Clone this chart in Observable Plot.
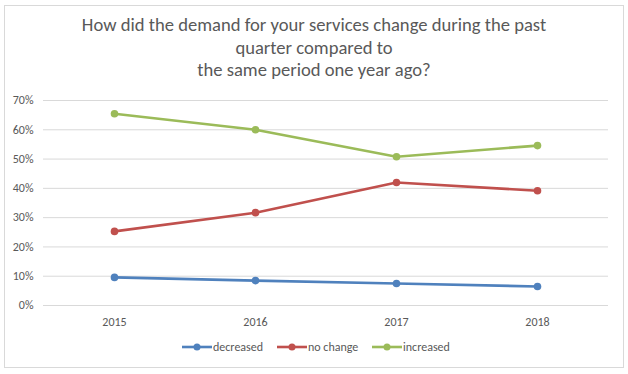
<!DOCTYPE html>
<html><head><meta charset="utf-8">
<script src="https://cdn.jsdelivr.net/npm/d3@7"></script>
<script src="https://cdn.jsdelivr.net/npm/@observablehq/plot@0.6"></script>
<style>
body{margin:0;background:#fff;font-family:Carlito,"Liberation Sans Narrow","Open Sans",sans-serif;}
#frame{position:absolute;left:4px;top:5px;width:618px;height:361px;border:1px solid #d9d9d9;}
#title{position:absolute;left:0;top:14px;width:628px;text-align:center;font-size:18.6px;line-height:22.5px;color:#595959;}
#chart{position:absolute;left:0;top:85px;}
#legend{position:absolute;left:0;top:338px;width:628px;height:18px;font-size:12px;color:#595959;}
.item{position:absolute;top:0;display:flex;align-items:center;height:18px;}
.item svg{margin-right:1px;}
</style></head>
<body>
<div id="frame"></div>
<div id="title">How did the demand for your services change during the past<br>quarter compared to<br>the same period one year ago?</div>
<div id="chart"></div>
<div id="legend"></div>
<script>
const years = ["2015","2016","2017","2018"];
const decreased = [0.096, 0.085, 0.075, 0.065];
const noChange = [0.253, 0.317, 0.42, 0.392];
const increased = [0.655, 0.60, 0.508, 0.546];
const seriesNames = ["decreased","no change","increased"];
const seriesColors = ["#4F81BD","#C0504D","#9BBB59"];
const yTicks = [0,0.1,0.2,0.3,0.4,0.5,0.6,0.7];

const seriesValues = [decreased, noChange, increased];
const data = [];
seriesNames.forEach((s,i)=>years.forEach((y,j)=>data.push({series:s, year:y, value:seriesValues[i][j]})));

const plot = Plot.plot({
  width: 628, height: 250,
  marginTop: 15, marginBottom: 30, marginLeft: 43, marginRight: 20,
  style:{fontFamily:'Carlito,"Liberation Sans Narrow","Open Sans",sans-serif', fontSize:"12px", color:"#595959", background:"transparent"},
  x:{type:"point", domain:years, padding:0.5, label:null, tickSize:0, tickPadding:12},
  y:{domain:[0,0.7], ticks:yTicks, tickFormat:d=>Math.round(d*100)+"%", label:null, tickSize:0, tickPadding:10},
  color:{domain:seriesNames, range:seriesColors},
  marks:[
    Plot.ruleY(yTicks,{stroke:"#d9d9d9", strokeWidth:1}),
    Plot.line(data,{x:"year", y:"value", z:"series", stroke:"series", strokeWidth:2.6}),
    Plot.dot(data,{x:"year", y:"value", fill:"series", r:3.8})
  ]
});
document.getElementById("chart").appendChild(plot);

const legendX = [182, 277, 372];
const leg = document.getElementById("legend");
seriesNames.forEach((s,i)=>{
  const d = document.createElement("div");
  d.className="item"; d.style.left = legendX[i]+"px";
  d.innerHTML = `<svg width="30" height="10"><line x1="0" y1="5" x2="30" y2="5" stroke="${seriesColors[i]}" stroke-width="2.6"/><circle cx="15" cy="5" r="3.5" fill="${seriesColors[i]}"/></svg><span>${s}</span>`;
  leg.appendChild(d);
});
</script>
</body></html>
